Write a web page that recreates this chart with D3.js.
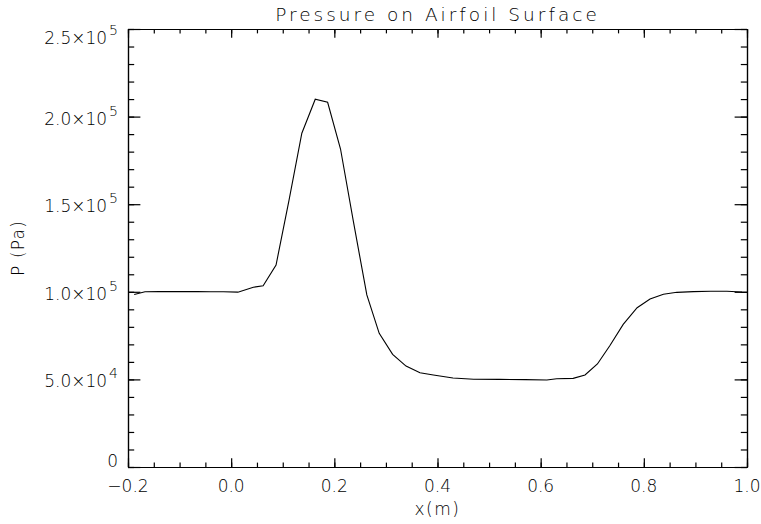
<!DOCTYPE html>
<html>
<head>
<meta charset="utf-8">
<script src="https://cdn.jsdelivr.net/npm/d3@7"></script>
<style>
  body { margin: 0; background: #fff; }
  text { font-family: "DejaVu Sans", sans-serif; font-weight: 200; fill: #000; }
</style>
</head>
<body>
<svg id="chart" width="761" height="524"></svg>
<script>
// pressure along the airfoil surface
const xPos = [-0.188, -0.167, -0.14, -0.115, -0.09, -0.065, -0.04, -0.015, 0.013, 0.043, 0.062,
  0.087, 0.112, 0.137, 0.163, 0.187, 0.212, 0.237, 0.263, 0.287, 0.313, 0.339, 0.366, 0.392,
  0.43, 0.47, 0.52, 0.57, 0.612, 0.631, 0.663, 0.686, 0.71, 0.734, 0.76, 0.787, 0.812, 0.838,
  0.864, 0.896, 0.93, 0.961, 0.99];
const pressure = [98500, 100000, 100100, 100100, 100100, 100100, 100000, 100000, 99800, 102600, 103500,
  115300, 152000, 190500, 209900, 208200, 181500, 140000, 98200, 76300, 64300, 57600, 53800, 52500,
  50800, 50100, 50000, 49900, 49700, 50400, 50600, 52500, 58800, 69200, 81400, 90900, 95900, 98600,
  99700, 100100, 100300, 100300, 99900];

const xMajor = [-0.2, 0.0, 0.2, 0.4, 0.6, 0.8, 1.0];
const yMajor = [0, 50000, 100000, 150000, 200000, 250000];

const margin = { top: 29, right: 14, bottom: 57, left: 128 },
  width = 761 - margin.left - margin.right,
  height = 524 - margin.top - margin.bottom;

const svg = d3.select("#chart");

const x = d3.scaleLinear().domain([-0.2, 1.0]).range([margin.left, margin.left + width]);
const y = d3.scaleLinear().domain([0, 250000]).range([margin.top + height, margin.top]);

const xMinor = d3.range(-0.2, 1.0001, 0.05).map(v => +v.toFixed(2));
const yMinor = d3.range(0, 250001, 10000);

const xTick = 0.02 * height, yTick = 0.02 * width;

function drawAxis(axis, tx, ty) {
  const g = svg.append("g").attr("transform", `translate(${tx},${ty})`).call(axis);
  g.selectAll("path, line").attr("stroke", "#000").attr("stroke-width", 1.2);
  g.selectAll("text").remove();
  return g;
}

const bottom = margin.top + height, right = margin.left + width;
// major + minor ticks on all four sides, pointing inwards
drawAxis(d3.axisTop(x).tickValues(xMajor).tickSize(xTick).tickSizeOuter(0).tickFormat(""), 0, bottom);
drawAxis(d3.axisTop(x).tickValues(xMinor).tickSize(xTick / 2).tickSizeOuter(0).tickFormat(""), 0, bottom);
drawAxis(d3.axisBottom(x).tickValues(xMajor).tickSize(xTick).tickSizeOuter(0).tickFormat(""), 0, margin.top);
drawAxis(d3.axisBottom(x).tickValues(xMinor).tickSize(xTick / 2).tickSizeOuter(0).tickFormat(""), 0, margin.top);
drawAxis(d3.axisRight(y).tickValues(yMajor).tickSize(yTick).tickSizeOuter(0).tickFormat(""), margin.left, 0);
drawAxis(d3.axisRight(y).tickValues(yMinor).tickSize(yTick / 2).tickSizeOuter(0).tickFormat(""), margin.left, 0);
drawAxis(d3.axisLeft(y).tickValues(yMajor).tickSize(yTick).tickSizeOuter(0).tickFormat(""), right, 0);
drawAxis(d3.axisLeft(y).tickValues(yMinor).tickSize(yTick / 2).tickSizeOuter(0).tickFormat(""), right, 0);

// x tick labels
svg.append("g").selectAll("text")
  .data(xMajor).enter()
  .append("text")
  .attr("x", d => x(d))
  .attr("y", 492)
  .attr("text-anchor", "middle")
  .style("font-size", "17px")
  .text(d => (d < 0 ? "\u2212" : "") + Math.abs(d).toFixed(1));

// y tick labels, IDL style mantissa x 10^exp
const yl = svg.append("g").selectAll("text")
  .data(yMajor).enter()
  .append("text")
  .attr("x", 118)
  .attr("y", d => Math.max(margin.top + 15.3, Math.min(bottom, y(d) + 8)))
  .attr("text-anchor", "end")
  .style("font-size", "17px");

yl.each(function (d) {
  const t = d3.select(this);
  if (d === 0) { t.text("0"); return; }
  const e = Math.floor(Math.log10(d));
  const m = (d / Math.pow(10, e)).toFixed(1);
  t.append("tspan").text(m + "\u00d710");
  t.append("tspan").attr("dx", 2).attr("dy", -9).style("font-size", "14px").text(e);
});

// curve
svg.append("path")
  .datum(xPos.map((v, i) => [v, pressure[i]]))
  .attr("fill", "none")
  .attr("stroke", "#000")
  .attr("stroke-width", 1.1)
  .attr("d", d3.line().x(d => x(d[0])).y(d => y(d[1])));

svg.append("text")
  .attr("x", margin.left + width / 2)
  .attr("y", 21)
  .attr("text-anchor", "middle")
  .style("font-size", "18.5px")
  .style("letter-spacing", "3px")
  .text("Pressure on Airfoil Surface");

svg.append("text")
  .attr("x", margin.left + width / 2)
  .attr("y", 515)
  .attr("text-anchor", "middle")
  .style("font-size", "17px")
  .style("letter-spacing", "1.5px")
  .text("x(m)");

svg.append("text")
  .attr("transform", `translate(24,${margin.top + height / 2})rotate(-90)`)
  .attr("text-anchor", "middle")
  .style("font-size", "17px")
  .style("letter-spacing", "1.2px")
  .text("P (Pa)");
</script>
</body>
</html>
